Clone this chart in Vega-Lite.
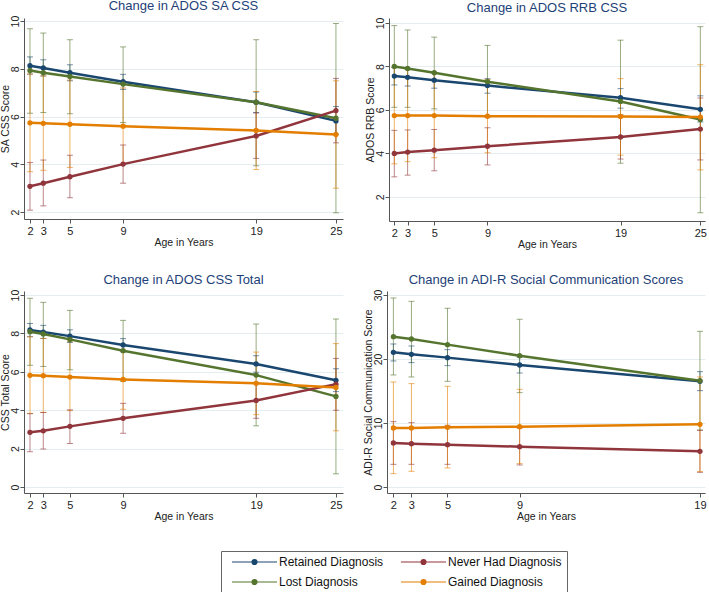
{
  "$schema": "https://vega.github.io/schema/vega-lite/v6.json",
  "padding": 0,
  "background": "white",
  "autosize": {"type": "pad"},
  "data": {"values": [
    {"p":"SA","g":"Retained Diagnosis","age":2,"m":8.13,"lo":7.78,"hi":8.5},
    {"p":"SA","g":"Retained Diagnosis","age":3,"m":8.04,"lo":7.7,"hi":8.38},
    {"p":"SA","g":"Retained Diagnosis","age":5,"m":7.84,"lo":7.5,"hi":8.17},
    {"p":"SA","g":"Retained Diagnosis","age":9,"m":7.46,"lo":7.14,"hi":7.77},
    {"p":"SA","g":"Retained Diagnosis","age":19,"m":6.6,"lo":6.17,"hi":7.03},
    {"p":"SA","g":"Retained Diagnosis","age":25,"m":5.82,"lo":5.25,"hi":6.42},
    {"p":"SA","g":"Lost Diagnosis","age":2,"m":7.93,"lo":6.14,"hi":9.68},
    {"p":"SA","g":"Lost Diagnosis","age":3,"m":7.84,"lo":6.17,"hi":9.5},
    {"p":"SA","g":"Lost Diagnosis","age":5,"m":7.68,"lo":6.12,"hi":9.22},
    {"p":"SA","g":"Lost Diagnosis","age":9,"m":7.36,"lo":5.75,"hi":8.92},
    {"p":"SA","g":"Lost Diagnosis","age":19,"m":6.6,"lo":3.94,"hi":9.22},
    {"p":"SA","g":"Lost Diagnosis","age":25,"m":5.93,"lo":1.97,"hi":9.9},
    {"p":"SA","g":"Never Had Diagnosis","age":2,"m":3.08,"lo":2.08,"hi":4.08},
    {"p":"SA","g":"Never Had Diagnosis","age":3,"m":3.21,"lo":2.26,"hi":4.18},
    {"p":"SA","g":"Never Had Diagnosis","age":5,"m":3.48,"lo":2.6,"hi":4.38},
    {"p":"SA","g":"Never Had Diagnosis","age":9,"m":4.01,"lo":3.21,"hi":4.81},
    {"p":"SA","g":"Never Had Diagnosis","age":19,"m":5.19,"lo":4.25,"hi":6.15},
    {"p":"SA","g":"Never Had Diagnosis","age":25,"m":6.25,"lo":4.9,"hi":7.6},
    {"p":"SA","g":"Gained Diagnosis","age":2,"m":5.74,"lo":3.69,"hi":7.78},
    {"p":"SA","g":"Gained Diagnosis","age":3,"m":5.72,"lo":3.75,"hi":7.7},
    {"p":"SA","g":"Gained Diagnosis","age":5,"m":5.68,"lo":3.87,"hi":7.53},
    {"p":"SA","g":"Gained Diagnosis","age":9,"m":5.6,"lo":4.0,"hi":7.2},
    {"p":"SA","g":"Gained Diagnosis","age":19,"m":5.42,"lo":3.78,"hi":7.05},
    {"p":"SA","g":"Gained Diagnosis","age":25,"m":5.25,"lo":3.0,"hi":7.5},

    {"p":"RRB","g":"Retained Diagnosis","age":2,"m":7.56,"lo":7.15,"hi":7.95},
    {"p":"RRB","g":"Retained Diagnosis","age":3,"m":7.5,"lo":7.1,"hi":7.9},
    {"p":"RRB","g":"Retained Diagnosis","age":5,"m":7.37,"lo":7.0,"hi":7.73},
    {"p":"RRB","g":"Retained Diagnosis","age":9,"m":7.12,"lo":6.77,"hi":7.44},
    {"p":"RRB","g":"Retained Diagnosis","age":19,"m":6.56,"lo":6.08,"hi":6.98},
    {"p":"RRB","g":"Retained Diagnosis","age":25,"m":6.03,"lo":5.45,"hi":6.65},
    {"p":"RRB","g":"Lost Diagnosis","age":2,"m":8.0,"lo":6.12,"hi":9.88},
    {"p":"RRB","g":"Lost Diagnosis","age":3,"m":7.91,"lo":6.12,"hi":9.68},
    {"p":"RRB","g":"Lost Diagnosis","age":5,"m":7.71,"lo":6.05,"hi":9.35},
    {"p":"RRB","g":"Lost Diagnosis","age":9,"m":7.3,"lo":5.65,"hi":8.97},
    {"p":"RRB","g":"Lost Diagnosis","age":19,"m":6.39,"lo":3.55,"hi":9.21},
    {"p":"RRB","g":"Lost Diagnosis","age":25,"m":5.56,"lo":1.27,"hi":9.83},
    {"p":"RRB","g":"Never Had Diagnosis","age":2,"m":4.0,"lo":2.92,"hi":5.06},
    {"p":"RRB","g":"Never Had Diagnosis","age":3,"m":4.06,"lo":3.0,"hi":5.08},
    {"p":"RRB","g":"Never Had Diagnosis","age":5,"m":4.15,"lo":3.2,"hi":5.1},
    {"p":"RRB","g":"Never Had Diagnosis","age":9,"m":4.33,"lo":3.47,"hi":5.18},
    {"p":"RRB","g":"Never Had Diagnosis","age":19,"m":4.76,"lo":3.74,"hi":5.78},
    {"p":"RRB","g":"Never Had Diagnosis","age":25,"m":5.12,"lo":3.7,"hi":6.55},
    {"p":"RRB","g":"Gained Diagnosis","age":2,"m":5.74,"lo":3.52,"hi":7.95},
    {"p":"RRB","g":"Gained Diagnosis","age":3,"m":5.74,"lo":3.62,"hi":7.85},
    {"p":"RRB","g":"Gained Diagnosis","age":5,"m":5.74,"lo":3.8,"hi":7.7},
    {"p":"RRB","g":"Gained Diagnosis","age":9,"m":5.71,"lo":4.03,"hi":7.4},
    {"p":"RRB","g":"Gained Diagnosis","age":19,"m":5.7,"lo":3.92,"hi":7.44},
    {"p":"RRB","g":"Gained Diagnosis","age":25,"m":5.67,"lo":3.24,"hi":8.08},

    {"p":"TOT","g":"Retained Diagnosis","age":2,"m":8.18,"lo":7.83,"hi":8.52},
    {"p":"TOT","g":"Retained Diagnosis","age":3,"m":8.07,"lo":7.74,"hi":8.42},
    {"p":"TOT","g":"Retained Diagnosis","age":5,"m":7.86,"lo":7.53,"hi":8.19},
    {"p":"TOT","g":"Retained Diagnosis","age":9,"m":7.4,"lo":7.05,"hi":7.73},
    {"p":"TOT","g":"Retained Diagnosis","age":19,"m":6.41,"lo":5.98,"hi":6.84},
    {"p":"TOT","g":"Retained Diagnosis","age":25,"m":5.56,"lo":4.97,"hi":6.16},
    {"p":"TOT","g":"Lost Diagnosis","age":2,"m":8.09,"lo":6.34,"hi":9.83},
    {"p":"TOT","g":"Lost Diagnosis","age":3,"m":7.97,"lo":6.28,"hi":9.62},
    {"p":"TOT","g":"Lost Diagnosis","age":5,"m":7.69,"lo":6.11,"hi":9.2},
    {"p":"TOT","g":"Lost Diagnosis","age":9,"m":7.1,"lo":5.5,"hi":8.68},
    {"p":"TOT","g":"Lost Diagnosis","age":19,"m":5.83,"lo":3.19,"hi":8.49},
    {"p":"TOT","g":"Lost Diagnosis","age":25,"m":4.72,"lo":0.69,"hi":8.75},
    {"p":"TOT","g":"Never Had Diagnosis","age":2,"m":2.85,"lo":1.84,"hi":3.82},
    {"p":"TOT","g":"Never Had Diagnosis","age":3,"m":2.93,"lo":1.98,"hi":3.88},
    {"p":"TOT","g":"Never Had Diagnosis","age":5,"m":3.16,"lo":2.27,"hi":4.02},
    {"p":"TOT","g":"Never Had Diagnosis","age":9,"m":3.58,"lo":2.8,"hi":4.36},
    {"p":"TOT","g":"Never Had Diagnosis","age":19,"m":4.51,"lo":3.58,"hi":5.45},
    {"p":"TOT","g":"Never Had Diagnosis","age":25,"m":5.36,"lo":4.0,"hi":6.7},
    {"p":"TOT","g":"Gained Diagnosis","age":2,"m":5.82,"lo":3.84,"hi":7.83},
    {"p":"TOT","g":"Gained Diagnosis","age":3,"m":5.8,"lo":3.89,"hi":7.74},
    {"p":"TOT","g":"Gained Diagnosis","age":5,"m":5.73,"lo":3.98,"hi":7.57},
    {"p":"TOT","g":"Gained Diagnosis","age":9,"m":5.6,"lo":4.05,"hi":7.05},
    {"p":"TOT","g":"Gained Diagnosis","age":19,"m":5.4,"lo":3.77,"hi":7.03},
    {"p":"TOT","g":"Gained Diagnosis","age":25,"m":5.19,"lo":2.93,"hi":7.47},

    {"p":"ADI","g":"Retained Diagnosis","age":2,"m":21.04,"lo":19.69,"hi":22.34},
    {"p":"ADI","g":"Retained Diagnosis","age":3,"m":20.73,"lo":19.43,"hi":22.03},
    {"p":"ADI","g":"Retained Diagnosis","age":5,"m":20.21,"lo":18.96,"hi":21.46},
    {"p":"ADI","g":"Retained Diagnosis","age":9,"m":19.06,"lo":17.81,"hi":20.3},
    {"p":"ADI","g":"Retained Diagnosis","age":19,"m":16.51,"lo":15.05,"hi":18.02},
    {"p":"ADI","g":"Lost Diagnosis","age":2,"m":23.49,"lo":17.5,"hi":29.53},
    {"p":"ADI","g":"Lost Diagnosis","age":3,"m":23.12,"lo":17.19,"hi":29.0},
    {"p":"ADI","g":"Lost Diagnosis","age":5,"m":22.24,"lo":16.51,"hi":27.92},
    {"p":"ADI","g":"Lost Diagnosis","age":9,"m":20.52,"lo":14.74,"hi":26.2},
    {"p":"ADI","g":"Lost Diagnosis","age":19,"m":16.61,"lo":8.9,"hi":24.32},
    {"p":"ADI","g":"Never Had Diagnosis","age":2,"m":6.88,"lo":3.54,"hi":10.21},
    {"p":"ADI","g":"Never Had Diagnosis","age":3,"m":6.77,"lo":3.54,"hi":10.05},
    {"p":"ADI","g":"Never Had Diagnosis","age":5,"m":6.61,"lo":3.54,"hi":9.64},
    {"p":"ADI","g":"Never Had Diagnosis","age":9,"m":6.3,"lo":3.44,"hi":9.2},
    {"p":"ADI","g":"Never Had Diagnosis","age":19,"m":5.57,"lo":2.29,"hi":8.85},
    {"p":"ADI","g":"Gained Diagnosis","age":2,"m":9.22,"lo":2.08,"hi":16.41},
    {"p":"ADI","g":"Gained Diagnosis","age":3,"m":9.22,"lo":2.45,"hi":16.15},
    {"p":"ADI","g":"Gained Diagnosis","age":5,"m":9.32,"lo":2.97,"hi":15.73},
    {"p":"ADI","g":"Gained Diagnosis","age":9,"m":9.43,"lo":3.65,"hi":15.26},
    {"p":"ADI","g":"Gained Diagnosis","age":19,"m":9.79,"lo":2.4,"hi":17.19}
  ]},
  "spacing": 24,
  "vconcat": [
    {
      "spacing": 22,
      "hconcat": [
        {
          "width": 319, "height": 201,
          "title": "Change in ADOS SA CSS",
          "transform": [{"filter": "datum.p === 'SA'"}],
          "encoding": {
            "x": {"field": "age", "type": "quantitative", "title": "Age in Years", "scale": {"domain": [1.55, 25.53], "nice": false, "zero": false}, "axis": {"values": [2, 3, 5, 9, 19, 25]}},
            "color": {"field": "g", "type": "nominal", "scale": {"domain": ["Retained Diagnosis", "Never Had Diagnosis", "Lost Diagnosis", "Gained Diagnosis"], "range": ["#1a476f", "#90353b", "#55752f", "#e37e00"]}}
          },
          "layer": [
            {"mark": {"type": "rule", "opacity": 0.6, "strokeWidth": 1}, "encoding": {"y": {"field": "lo", "type": "quantitative", "title": "SA CSS Score", "scale": {"domain": [1.71, 10.13], "nice": false, "zero": false}, "axis": {"values": [2, 4, 6, 8, 10]}}, "y2": {"field": "hi"}}},
            {"mark": {"type": "tick", "orient": "horizontal", "size": 6, "thickness": 1, "opacity": 0.6}, "encoding": {"y": {"field": "lo", "type": "quantitative", "title": "SA CSS Score"}}},
            {"mark": {"type": "tick", "orient": "horizontal", "size": 6, "thickness": 1, "opacity": 0.6}, "encoding": {"y": {"field": "hi", "type": "quantitative", "title": "SA CSS Score"}}},
            {"mark": {"type": "line", "strokeWidth": 2.5}, "encoding": {"y": {"field": "m", "type": "quantitative", "title": "SA CSS Score"}}},
            {"mark": {"type": "point", "filled": true, "size": 28, "opacity": 1}, "encoding": {"y": {"field": "m", "type": "quantitative", "title": "SA CSS Score"}}}
          ]
        },
        {
          "width": 316, "height": 203,
          "title": "Change in ADOS RRB CSS",
          "transform": [{"filter": "datum.p === 'RRB'"}],
          "encoding": {
            "x": {"field": "age", "type": "quantitative", "title": "Age in Years", "scale": {"domain": [1.6, 25.35], "nice": false, "zero": false}, "axis": {"values": [2, 3, 5, 9, 19, 25]}},
            "color": {"field": "g", "type": "nominal"}
          },
          "layer": [
            {"mark": {"type": "rule", "opacity": 0.6, "strokeWidth": 1}, "encoding": {"y": {"field": "lo", "type": "quantitative", "title": "ADOS RRB Score", "scale": {"domain": [0.89, 10.23], "nice": false, "zero": false}, "axis": {"values": [2, 4, 6, 8, 10]}}, "y2": {"field": "hi"}}},
            {"mark": {"type": "tick", "orient": "horizontal", "size": 6, "thickness": 1, "opacity": 0.6}, "encoding": {"y": {"field": "lo", "type": "quantitative", "title": "ADOS RRB Score"}}},
            {"mark": {"type": "tick", "orient": "horizontal", "size": 6, "thickness": 1, "opacity": 0.6}, "encoding": {"y": {"field": "hi", "type": "quantitative", "title": "ADOS RRB Score"}}},
            {"mark": {"type": "line", "strokeWidth": 2.5}, "encoding": {"y": {"field": "m", "type": "quantitative", "title": "ADOS RRB Score"}}},
            {"mark": {"type": "point", "filled": true, "size": 28, "opacity": 1}, "encoding": {"y": {"field": "m", "type": "quantitative", "title": "ADOS RRB Score"}}}
          ]
        }
      ]
    },
    {
      "spacing": 20,
      "hconcat": [
        {
          "width": 319, "height": 202,
          "title": "Change in ADOS CSS Total",
          "transform": [{"filter": "datum.p === 'TOT'"}],
          "encoding": {
            "x": {"field": "age", "type": "quantitative", "title": "Age in Years", "scale": {"domain": [1.55, 25.53], "nice": false, "zero": false}, "axis": {"values": [2, 3, 5, 9, 19, 25]}},
            "color": {"field": "g", "type": "nominal"}
          },
          "layer": [
            {"mark": {"type": "rule", "opacity": 0.6, "strokeWidth": 1}, "encoding": {"y": {"field": "lo", "type": "quantitative", "title": "CSS Total Score", "scale": {"domain": [-0.31, 10.21], "nice": false, "zero": false}, "axis": {"values": [0, 2, 4, 6, 8, 10]}}, "y2": {"field": "hi"}}},
            {"mark": {"type": "tick", "orient": "horizontal", "size": 6, "thickness": 1, "opacity": 0.6}, "encoding": {"y": {"field": "lo", "type": "quantitative", "title": "CSS Total Score"}}},
            {"mark": {"type": "tick", "orient": "horizontal", "size": 6, "thickness": 1, "opacity": 0.6}, "encoding": {"y": {"field": "hi", "type": "quantitative", "title": "CSS Total Score"}}},
            {"mark": {"type": "line", "strokeWidth": 2.5}, "encoding": {"y": {"field": "m", "type": "quantitative", "title": "CSS Total Score"}}},
            {"mark": {"type": "point", "filled": true, "size": 28, "opacity": 1}, "encoding": {"y": {"field": "m", "type": "quantitative", "title": "CSS Total Score"}}}
          ]
        },
        {
          "width": 318, "height": 202,
          "title": "Change in ADI-R Social Communication Scores",
          "transform": [{"filter": "datum.p === 'ADI'"}],
          "encoding": {
            "x": {"field": "age", "type": "quantitative", "title": "Age in Years", "scale": {"domain": [1.645, 19.28], "nice": false, "zero": false}, "axis": {"values": [2, 3, 5, 9, 19]}},
            "color": {"field": "g", "type": "nominal"}
          },
          "layer": [
            {"mark": {"type": "rule", "opacity": 0.6, "strokeWidth": 1}, "encoding": {"y": {"field": "lo", "type": "quantitative", "title": "ADI-R Social Communication Score", "scale": {"domain": [-0.94, 30.62], "nice": false, "zero": false}, "axis": {"values": [0, 10, 20, 30]}}, "y2": {"field": "hi"}}},
            {"mark": {"type": "tick", "orient": "horizontal", "size": 6, "thickness": 1, "opacity": 0.6}, "encoding": {"y": {"field": "lo", "type": "quantitative", "title": "ADI-R Social Communication Score"}}},
            {"mark": {"type": "tick", "orient": "horizontal", "size": 6, "thickness": 1, "opacity": 0.6}, "encoding": {"y": {"field": "hi", "type": "quantitative", "title": "ADI-R Social Communication Score"}}},
            {"mark": {"type": "line", "strokeWidth": 2.5}, "encoding": {"y": {"field": "m", "type": "quantitative", "title": "ADI-R Social Communication Score"}}},
            {"mark": {"type": "point", "filled": true, "size": 28, "opacity": 1}, "encoding": {"y": {"field": "m", "type": "quantitative", "title": "ADI-R Social Communication Score"}}}
          ]
        }
      ]
    }
  ],
  "config": {
    "font": "Liberation Sans",
    "view": {"stroke": null},
    "title": {"fontSize": 13, "fontWeight": "normal", "color": "#1e3f78", "offset": 2, "anchor": "middle"},
    "axis": {"domainColor": "#555555", "tickColor": "#555555", "labelColor": "#222222", "titleColor": "#222222", "labelFontSize": 11, "titleFontSize": 10.5, "titleFontWeight": "normal", "tickSize": 4, "labelPadding": 2, "titlePadding": 1, "gridColor": "#e4eef0", "labelFlush": false, "labelOverlap": false},
    "axisX": {"grid": false},
    "axisY": {"grid": true, "labelAngle": 270, "labelAlign": "center", "labelBaseline": "bottom", "labelPadding": 0, "labelFontSize": 10.5, "titlePadding": 0},
    "legend": {
      "title": null,
      "orient": "none",
      "legendX": 197,
      "legendY": 533,
      "direction": "horizontal",
      "columns": 2,
      "symbolType": "M0,0H9M4,0A0.5,0.5 0 1,1 5,0A0.5,0.5 0 1,1 4,0Z",
      "symbolSize": 100,
      "symbolStrokeWidth": 1.2,
      "symbolOpacity": 1,
      "labelOffset": 41,
      "labelFontSize": 12,
      "labelColor": "#111111",
      "columnPadding": 11,
      "rowPadding": 8,
      "strokeColor": "#666666",
      "padding": 5,
      "labelLimit": 300
    }
  }
}
